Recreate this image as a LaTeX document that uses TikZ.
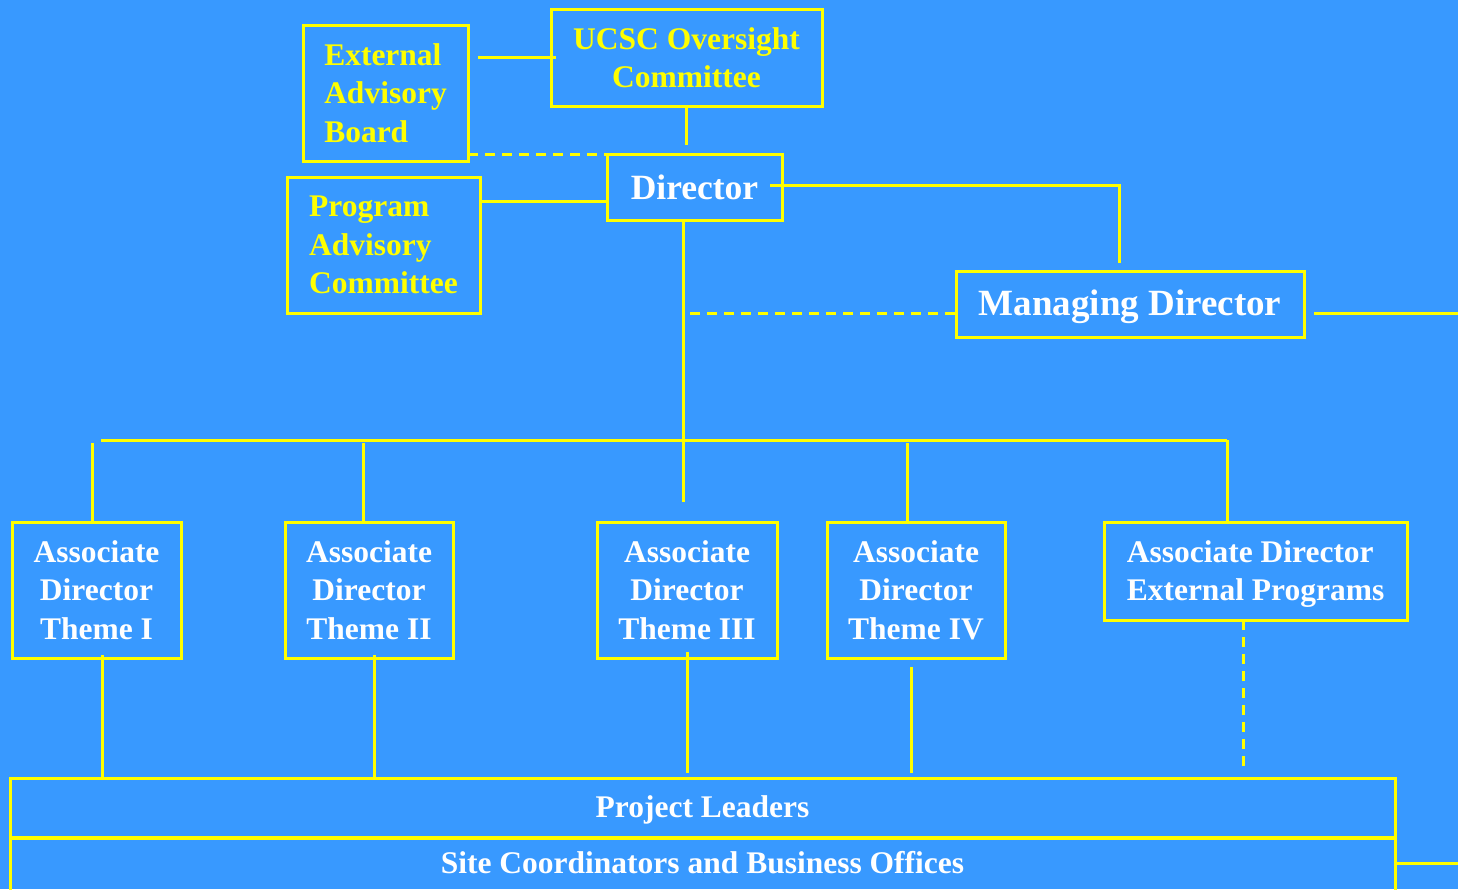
\documentclass[tikz,border=0pt]{standalone}
\usepackage{fontspec}
\setmainfont{Liberation Serif}
\definecolor{bg}{RGB}{56,153,255}
\definecolor{yl}{RGB}{255,255,0}
\begin{document}
\begin{tikzpicture}[x=1pt,y=-1pt,
  box/.style={draw=yl, line width=3pt, inner sep=0pt, outer sep=0pt,
    font=\bfseries\fontsize{31.5}{38.5}\selectfont, text=white, align=center},
  ybox/.style={box, text=yl},
  ln/.style={draw=yl, line width=3pt},
  dsh/.style={draw=yl, line width=3pt, dash pattern=on 10pt off 7pt}]
\fill[bg] (0,0) rectangle (1458,889);
\useasboundingbox (0,0) rectangle (1458,889);

% nodes
\node[ybox, align=left, minimum width=165pt, minimum height=136pt] (eab) at (385.5,93) {External\\Advisory\\Board};
\node[ybox, minimum width=271pt, minimum height=97pt] (ucsc) at (686.5,57.5) {UCSC Oversight\\Committee};
\node[box, font=\bfseries\fontsize{35.5}{40}\selectfont, minimum width=175pt, minimum height=66pt] (dir) at (694.5,187) {Director};
\node[ybox, align=left, minimum width=193pt, minimum height=136pt] (pac) at (383.5,245) {Program\\Advisory\\Committee};
\node[box, font=\bfseries\fontsize{37}{42}\selectfont, text depth=2pt, minimum width=348pt, minimum height=66pt] (md) at (1130,304) {Managing Director};
\node[box, minimum width=169pt, minimum height=136pt] (ad1) at (96.5,590) {Associate\\Director\\Theme I};
\node[box, minimum width=168pt, minimum height=136pt] (ad2) at (369,590) {Associate\\Director\\Theme II};
\node[box, minimum width=180pt, minimum height=136pt] (ad3) at (687,590) {Associate\\Director\\Theme III};
\node[box, minimum width=178pt, minimum height=136pt] (ad4) at (916,590) {Associate\\Director\\Theme IV};
\node[box, align=left, text depth=1pt, minimum width=303pt, minimum height=98pt] (adep) at (1255.5,571) {Associate Director\\External Programs};
\node[box, text depth=1pt, minimum width=1385pt, minimum height=59pt] (pl) at (702.5,807.5) {Project Leaders};
\node[box, text depth=13pt, minimum width=1385pt, minimum height=62pt] (sc) at (702.5,869) {Site Coordinators and Business Offices};

% named free-end coordinates
\coordinate (dtop) at ([yshift=9pt]dir.north);
\coordinate (pacy) at ([yshift=-14pt]dir.west);
\coordinate (spine) at ([xshift=-11.5pt]dir.south);
\coordinate (ad3top) at ([yshift=20pt]ad3.north);
\coordinate (busL) at (101,440);
\coordinate (busR) at (1227,440);
\coordinate (busB) at (0,443);
\coordinate (dstart) at (690,313);
\coordinate (edgeR1) at (1458,313);
\coordinate (edgeR2) at (1458,863);
\coordinate (pltop) at ([yshift=5pt]pl.north);
\coordinate (ad1s) at ([xshift=5.5pt]ad1.south);
\coordinate (ad2s) at ([xshift=5pt]ad2.south);
\coordinate (ad4s) at ([xshift=-5pt]ad4.south);
\coordinate (adeps) at ([xshift=-12.5pt]adep.south);
\coordinate (ad1n) at ([xshift=-4.5pt]ad1.north);
\coordinate (ad2n) at ([xshift=-6pt]ad2.north);
\coordinate (ad4n) at ([xshift=-9pt]ad4.north);

% top connectors
\draw[ln] ([xshift=10pt]eab.east |- ucsc.west) -- ([xshift=5pt]ucsc.west);
\draw[ln] (ucsc.south) -- (ucsc.south |- dtop);
\draw[dsh] (eab.east |- dir.north west) -- (dir.north west);
\draw[ln] (pac.east |- pacy) -- (pacy);
\draw[ln] ([xshift=-12pt,yshift=2pt]dir.east) -| ([xshift=-11pt,yshift=8pt]md.north);
\draw[ln] (spine) -- (spine |- ad3top);
\draw[dsh] (dstart) -- (md.west |- dstart);
\draw[ln] ([xshift=10pt]md.east |- dstart) -- (edgeR1);

% bus
\draw[ln] (busL) -- (busR);
\draw[ln] (ad1n) -- (ad1n |- busB);
\draw[ln] (ad2n) -- (ad2n |- busB);
\draw[ln] (ad4n) -- (ad4n |- busB);
\draw[ln] (busR) -- (busR |- adep.north);

% down to project leaders
\draw[ln] ([yshift=3pt]ad1s) -- (ad1s |- pl.north);
\draw[ln] ([yshift=3pt]ad2s) -- (ad2s |- pl.north);
\draw[ln] ([yshift=6pt]ad3.south) -- (ad3.south |- pltop);
\draw[ln] ([yshift=-9pt]ad4s) -- (ad4s |- pltop);
\draw[dsh] (adeps) -- (adeps |- pltop);

% right edge
\draw[ln] (sc.east |- edgeR2) -- (edgeR2);
\end{tikzpicture}
\end{document}
